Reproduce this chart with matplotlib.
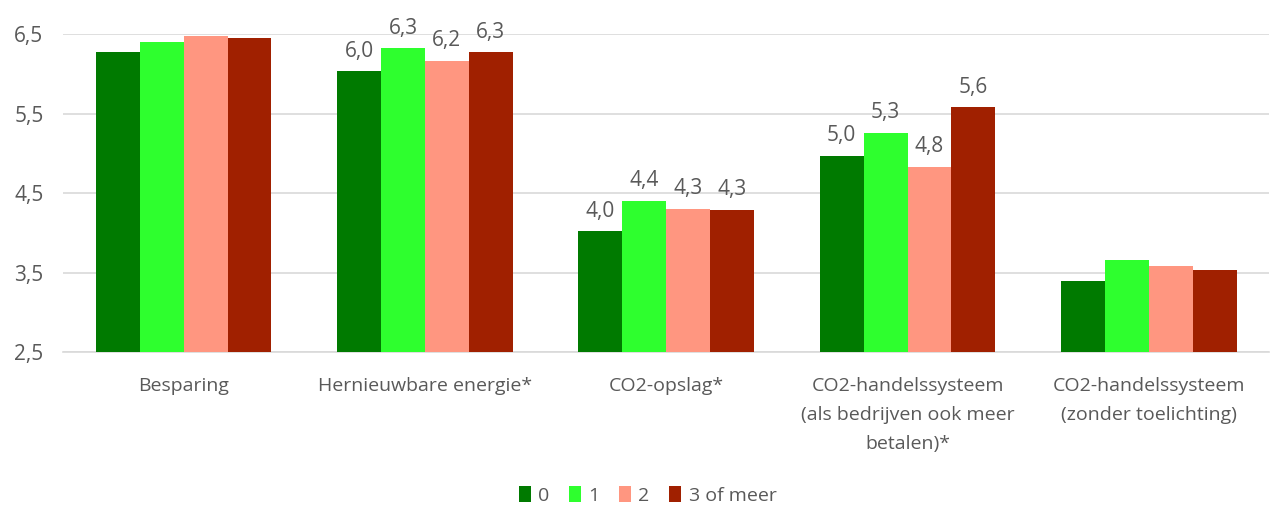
import numpy as np
import matplotlib
matplotlib.use("Agg")
import matplotlib.pyplot as plt

plt.rcParams["font.family"] = ["Open Sans", "DejaVu Sans"]

categories = [
    "Besparing",
    "Hernieuwbare energie*",
    "CO2-opslag*",
    "CO2-handelssysteem\n(als bedrijven ook meer\nbetalen)*",
    "CO2-handelssysteem\n(zonder toelichting)",
]
series_names = ["0", "1", "2", "3 of meer"]
series_colors = ["#007a00", "#2eff2e", "#ff9680", "#a02000"]

vals_0 = [6.27, 6.03, 4.02, 4.97, 3.40]
vals_1 = [6.40, 6.32, 4.40, 5.26, 3.66]
vals_2 = [6.48, 6.16, 4.30, 4.83, 3.58]
vals_3 = [6.45, 6.27, 4.29, 5.58, 3.53]
series_vals = [vals_0, vals_1, vals_2, vals_3]

# alleen deze groepen krijgen waardelabels
labelled = [1, 2, 3]

text_col = "#595959"
grid_col = "#d9d9d9"

fig = plt.figure(figsize=(12.7, 5.09), dpi=100)
ax = fig.add_axes([0.0496, 0.308, 0.95, 0.625])

x = np.arange(len(categories))
w = 0.182
base = 2.5
for i, (name, vals, col) in enumerate(zip(series_names, series_vals, series_colors)):
    pos = x + (i - 1.5) * w
    heights = np.array(vals) - base
    ax.bar(pos, heights, w, bottom=base, color=col, label=name, zorder=3)
    for j in labelled:
        ax.annotate(f"{vals[j]:.1f}".replace(".", ","), (pos[j], vals[j]),
                    xytext=(0, 7), textcoords="offset points",
                    ha="center", va="bottom", fontsize=15, color=text_col,
                    annotation_clip=False)

ax.set_xlim(-0.5, len(categories) - 0.5)
ax.set_ylim(2.5, 6.5)
ax.set_yticks([2.5, 3.5, 4.5, 5.5, 6.5])
ax.set_yticklabels(["2,5", "3,5", "4,5", "5,5", "6,5"])
ax.yaxis.grid(True, color=grid_col, linewidth=1.2, zorder=0)
ax.set_axisbelow(True)
for s in ["top", "right", "left"]:
    ax.spines[s].set_visible(False)
ax.spines["bottom"].set_color(grid_col)
ax.spines["bottom"].set_linewidth(1.2)

ax.set_xticks(x)
ax.set_xticklabels(categories, linespacing=1.76)
ax.tick_params(axis="y", length=0, colors=text_col, labelsize=15, pad=14)
ax.tick_params(axis="x", length=0, colors=text_col, labelsize=14, pad=18)
for t in ax.get_xticklabels():
    t.set_verticalalignment("top")

leg = fig.legend(loc="center", bbox_to_anchor=(0.51, 0.027), ncol=4, frameon=False,
                 fontsize=14, handlelength=0.6, handleheight=0.85,
                 handletextpad=0.4, columnspacing=1.0)
for t in leg.get_texts():
    t.set_color(text_col)

fig.savefig("out.png", dpi=100)
